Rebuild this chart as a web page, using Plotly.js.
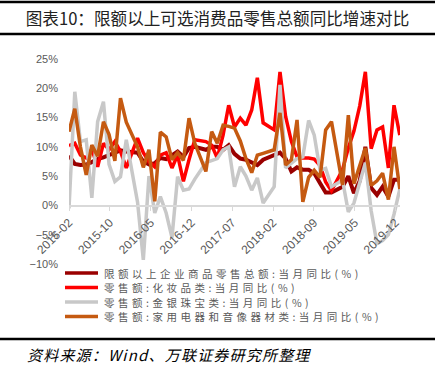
<!DOCTYPE html>
<html>
<head>
<meta charset="utf-8">
<script src="https://cdn.plot.ly/plotly-3.0.1.min.js"></script>
<style>
html,body{margin:0;padding:0;background:#fff;}
#chart{width:435px;height:378px;}
</style>
</head>
<body>
<div id="chart"></div>
<script>
// ---- data (month-end dates; January figures are not published separately) ----
const dates = [
  '2015-02-28','2015-03-31','2015-04-30','2015-05-31','2015-06-30','2015-07-31','2015-08-31','2015-09-30','2015-10-31','2015-11-30','2015-12-31',
  '2016-02-29','2016-03-31','2016-04-30','2016-05-31','2016-06-30','2016-07-31','2016-08-31','2016-09-30','2016-10-31','2016-11-30','2016-12-31',
  '2017-02-28','2017-03-31','2017-04-30','2017-05-31','2017-06-30','2017-07-31','2017-08-31','2017-09-30','2017-10-31','2017-11-30','2017-12-31',
  '2018-02-28','2018-03-31','2018-04-30','2018-05-31','2018-06-30','2018-07-31','2018-08-31','2018-09-30','2018-10-31','2018-11-30','2018-12-31',
  '2019-02-28','2019-03-31','2019-04-30','2019-05-31','2019-06-30','2019-07-31','2019-08-31','2019-09-30','2019-10-31','2019-11-30','2019-12-31'
];
const totalRetail = [
  8.5, 7.1, 6.9, 7.0, 7.4, 7.9, 8.2, 8.6, 8.9, 9.4, 9.2,
  9.0, 7.5, 7.0, 7.2, 8.1, 7.9, 8.6, 9.2, 8.3, 9.8, 10.0,
  9.5, 10.0, 10.0, 9.5, 10.3, 8.8, 8.0, 7.8, 7.4, 6.9, 7.8,
  8.6, 9.0, 8.0, 5.8, 6.5, 6.1, 6.1, 5.5, 3.8, 2.2, 2.2,
  3.2, 5.0, 2.1, 4.2, 10.0, 3.0, 1.8, 3.2, 1.5, 4.4, 4.4
];
const cosmetics = [
  10.2, 10.6, 8.6, 8.1, 9.6, 6.6, 10.6, 9.5, 10.9, 9.2, 6.4,
  11.5, 9.0, 7.5, 6.6, 8.6, 9.0, 6.4, 8.6, 4.1, 7.8, 11.2,
  10.9, 10.3, 8.1, 12.0, 17.1, 13.4, 14.9, 13.7, 16.3, 21.8, 14.1,
  12.9, 22.8, 15.2, 10.9, 8.3, 8.1, 8.1, 7.9, 6.8, 4.0, 2.5,
  6.1, 9.8, 12.7, 17.0, 22.8, 9.7, 12.9, 13.4, 6.4, 17.1, 12.0
];
const jewelry = [
  -0.5, 19.4, 10.9, 11.2, 1.3, 14.3, 17.7, 7.0, 4.1, 4.9, 11.2,
  0.6, -9.3, 5.0, -1.3, 1.5, -1.3, -5.5, 4.9, 2.6, 2.8, 4.5,
  7.3, 7.6, 8.0, 9.5, 10.0, 3.2, 6.6, 5.0, 2.6, 4.7, 0.4,
  3.2, 20.6, 6.4, 7.2, 8.0, 8.3, 14.5, 12.0, 6.0, 6.3, 3.2,
  4.3, -1.1, 0.4, 4.1, 7.3, -0.9, -6.5, -6.0, -5.0, -1.5, 2.8
];
const appliances = [
  12.6, 16.5, 10.0, 5.2, 10.3, 8.4, 14.3, 12.1, 7.6, 18.3, 14.2,
  10.0, 6.5, 9.5, 0.7, 12.5, 11.7, 7.8, 9.0, 7.7, 14.9, 10.6,
  5.8, 12.6, 10.6, 13.7, 13.5, 13.2, 11.0, 8.0, 5.6, 8.6, 8.9,
  9.5, 15.8, 6.9, 7.8, 14.6, 0.6, 4.8, 6.0, 4.8, 12.9, 14.3,
  3.5, 15.4, 3.7, 7.0, 9.8, 3.4, 4.2, 5.5, 1.0, 10.0, 2.8
];
const seriesNames = [
  '限额以上企业商品零售总额:当月同比(%)',
  '零售额:化妆品类:当月同比(%)',
  '零售额:金银珠宝类:当月同比(%)',
  '零售额:家用电器和音像器材类:当月同比(%)'
];
const seriesValues = [totalRetail, cosmetics, jewelry, appliances];
const seriesColors = ['#9A0000', '#FF0000', '#C8C8C8', '#C55A11'];
const seriesWidths = [4, 3.5, 3.5, 3.5];
const titleText = '图表10：限额以上可选消费品零售总额同比增速对比';
const sourceText = '资料来源：Wind、万联证券研究所整理';

// ---- layout geometry ----
const W = 435, H = 378;
const M = {l: 69, r: 35, t: 59, b: 114};
const PW = W - M.l - M.r, PH = H - M.t - M.b;
const px = x => (x - M.l) / PW;
const py = y => (H - M.b - y) / PH;
const yMin = -10, yMax = 25;

const CJK = '"Noto Sans CJK SC", "Liberation Sans", sans-serif';
const NUM = '"Liberation Sans", Arial, sans-serif';

const traces = seriesValues.map((vals, i) => ({
  type: 'scatter', mode: 'lines',
  x: dates, y: vals, name: seriesNames[i],
  line: {color: seriesColors[i], width: seriesWidths[i], shape: 'linear'},
  hoverinfo: 'skip'
}));

const shapes = [];
const annotations = [];
// horizontal rules (title frame and source separator)
[[2, 2.5], [34, 2.5], [339, 2.5]].forEach(([y, w]) => {
  shapes.push({type: 'line', xref: 'paper', yref: 'paper', x0: px(0), x1: px(W), y0: py(y), y1: py(y),
    line: {color: '#000', width: w}});
});
// legend (drawn manually to match compact row spacing)
const legendRows = [273, 287.5, 302, 316.5];
seriesNames.forEach((name, i) => {
  const ry = legendRows[i];
  shapes.push({type: 'line', xref: 'paper', yref: 'paper', x0: px(65), x1: px(98), y0: py(ry), y1: py(ry),
    line: {color: seriesColors[i], width: 3.5}});
  annotations.push({xref: 'paper', yref: 'paper', x: px(102), y: py(ry), xanchor: 'left', yanchor: 'middle',
    text: name, showarrow: false, font: {family: CJK, size: 10.5, color: '#595959'}});
});
annotations.push({xref: 'paper', yref: 'paper', x: px(25), y: py(354), xanchor: 'left', yanchor: 'middle',
  text: sourceText, showarrow: false, font: {family: CJK, size: 15, color: '#000', style: 'italic'}});

const layout = {
  width: W, height: H,
  margin: M,
  paper_bgcolor: '#fff', plot_bgcolor: '#fff',
  showlegend: false,
  font: {family: NUM, color: '#595959'},
  title: {text: titleText, font: {family: CJK, size: 16.6, color: '#222'},
    x: 0.5, xref: 'container', xanchor: 'center', y: 1 - 19/H, yref: 'container', yanchor: 'middle'},
  xaxis: {
    type: 'date', range: ['2015-02-28', '2020-01-01'],
    anchor: 'free', position: (0 - yMin) / (yMax - yMin),
    showline: true, linecolor: '#D9D9D9', linewidth: 1.5,
    ticks: 'outside', ticklen: 4, tickcolor: '#D9D9D9', tickwidth: 1,
    tick0: '2015-02-28', dtick: 218 * 86400000, tickformat: '%Y-%m',
    tickangle: -45, tickfont: {family: NUM, size: 12, color: '#595959'},
    showgrid: false, zeroline: false
  },
  yaxis: {
    range: [yMin, yMax], dtick: 5, tick0: 0, ticksuffix: '%',
    showgrid: false, zeroline: false, showline: false, ticks: '',
    ticklabelstandoff: 10,
    tickfont: {family: NUM, size: 11, color: '#595959'}
  },
  shapes: shapes,
  annotations: annotations
};

Plotly.newPlot('chart', traces, layout, {staticPlot: true, displayModeBar: false}).then(() => {
  // widen character spacing to match the reference typography, keeping the left edge fixed
  document.querySelectorAll('g.annotation').forEach(g => {
    const idx = +g.getAttribute('data-index');
    const t = g.querySelector('text.annotation-text');
    if (!t) return;
    const left = t.getBBox().x;
    t.style.letterSpacing = idx < seriesNames.length ? '3.5px' : '1.2px';
    t.setAttribute('text-anchor', 'start');
    t.setAttribute('x', left);
    t.querySelectorAll('tspan').forEach(s => { if (s.hasAttribute('x')) s.setAttribute('x', left); });
  });
});
</script>
</body>
</html>
